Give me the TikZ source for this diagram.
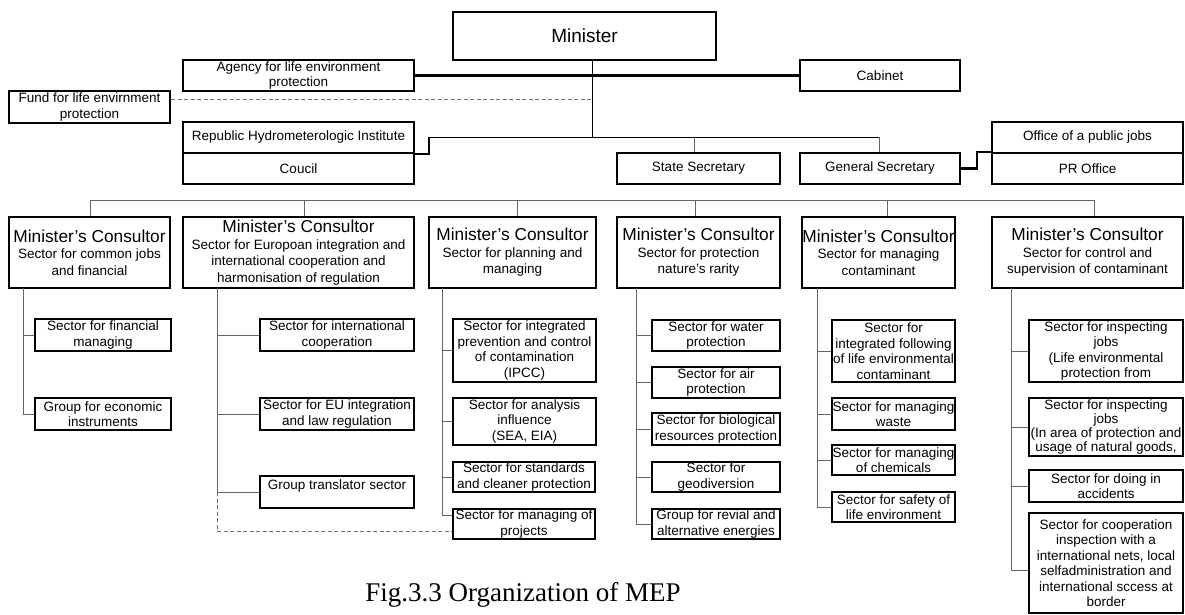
\documentclass[tikz,border=0pt]{standalone}
\usepackage{fontspec}
\setmainfont{Liberation Sans}
\newfontfamily\capfont{Liberation Serif}
\definecolor{conngray}{RGB}{100,100,100}
\definecolor{dashgray}{RGB}{110,110,110}
% box given by its corners: style, name, x1, x2, y1, y2, text
\newcommand\ebox[7]{%
  \node[#1, minimum width={(#4-#3)*1pt}, minimum height={(#6-#5)*1pt}]
    (#2) at ({(#3+#4)/2},{(#5+#6)/2}) {#7};}
\newcommand\mctitle{{\fontsize{17.3}{19}\selectfont Minister’s Consultor}}
\begin{document}
\begin{tikzpicture}[x=1pt,y=-1pt,
  box/.style={draw, line width=2.1pt, inner sep=0pt, align=center,
    font=\fontsize{13.5}{15.5}\selectfont},
  tightbox/.style={box, font=\fontsize{13.5}{14.2}\selectfont},
  consbox/.style={box, font=\fontsize{13.5}{16.5}\selectfont},
  topbox/.style={box, font=\fontsize{19}{21}\selectfont},
  conn/.style={draw=conngray, line width=0.9pt},
  blackconn/.style={draw=black, line width=0.9pt},
  heavyconn/.style={draw=black, line width=2.2pt, line join=miter},
  dashconn/.style={draw=dashgray, line width=0.9pt, dash pattern=on 4pt off 2.5pt}]
\useasboundingbox (0,0) rectangle (1185,615);
\fill[white] (0,0) rectangle (1185,615);

% ---- top level
\ebox{topbox}{min}{453}{716}{12}{60}{Minister}
\ebox{box}{agency}{183}{414}{60}{91}{Agency for life environment\\protection}
\ebox{box}{cabinet}{800}{960}{60}{91}{Cabinet}
\ebox{box}{fund}{9}{170}{91}{123}{Fund for life envirnment\\protection}
\ebox{box}{rep}{183}{414}{122}{153}{Republic Hydrometerologic Institute}
\ebox{box}{coucil}{183}{414}{153}{184}{Coucil}
\ebox{box}{ss}{617}{780}{153}{184}{State Secretary}
\ebox{box}{gs}{800}{960}{153}{184}{General Secretary}
\ebox{box}{office}{992}{1183}{122}{153}{Office of a public jobs}
\ebox{box}{pr}{992}{1183}{153}{184}{PR Office}

\coordinate (spine) at (592,137);
\coordinate (fundjoin) at (592,99);
\coordinate (repjoin) at (429,137);
\coordinate (gsjoin) at (879,137);

\draw[blackconn] (spine |- min.south) -- (spine);
\draw[heavyconn] (agency.east) -- (cabinet.west);
\draw[dashconn] (fundjoin -| fund.east) -- (fundjoin);
\draw[heavyconn] (rep.south east) -| (repjoin);
\draw[blackconn] (repjoin) -- (gsjoin);
\draw[conn] ([xshift=-4.5pt]ss.north |- repjoin) -- ([xshift=-4.5pt]ss.north);
\draw[conn] (gsjoin) -- (gsjoin |- gs.north);
\draw[heavyconn] (gs.east) -- ++(16,0) |- (pr.north west);

% ---- consultors
\ebox{consbox}{c1}{9}{170}{217}{288}{\mctitle\\Sector for common jobs\\and financial}
\ebox{consbox}{c2}{183}{414}{217}{288}{\mctitle\\Sector for Europoan integration and\\international cooperation and\\harmonisation of regulation}
\ebox{consbox}{c3}{429}{596}{217}{288}{\mctitle\\Sector for planning and\\managing}
\ebox{consbox}{c4}{617}{780}{217}{288}{\mctitle\\Sector for protection\\nature’s rarity}
\ebox{consbox}{c5}{802}{955}{217}{288}{\mctitle\\Sector for managing\\contaminant}
\ebox{consbox}{c6}{992}{1183}{217}{288}{\mctitle\\Sector for control and\\supervision of contaminant}

\coordinate (busL) at (90,200);
\coordinate (busR) at (1094,200);
\draw[conn] (busL) -- (busR);
\draw[conn] (busL) -- (busL |- c1.north);
\draw[conn] ([xshift=5.5pt]c2.north |- busL) -- ([xshift=5.5pt]c2.north);
\draw[conn] ([xshift=4.5pt]c3.north |- busL) -- ([xshift=4.5pt]c3.north);
\draw[conn] ([xshift=-3.5pt]c4.north |- busL) -- ([xshift=-3.5pt]c4.north);
\draw[conn] ([xshift=8.5pt]c5.north |- busL) -- ([xshift=8.5pt]c5.north);
\draw[conn] (busR) -- (busR |- c6.north);

% ---- sectors and groups
\ebox{box}{ch1a}{35}{171}{319}{351}{Sector for financial\\managing}
\ebox{box}{ch1b}{35}{171}{398}{430}{Group for economic\\instruments}

\ebox{box}{ch2a}{260}{414}{319}{351}{Sector for international\\cooperation}
\ebox{box}{ch2b}{260}{414}{398}{430}{Sector for EU integration\\and law regulation}
\ebox{box}{ch2c}{260}{414}{476}{508}{Group translator sector\\\mbox{}}

\ebox{box}{ch3a}{453}{596}{319}{382}{Sector for integrated\\prevention and control\\of contamination\\(IPCC)}
\ebox{box}{ch3b}{453}{596}{398}{445}{Sector for analysis\\influence\\(SEA, EIA)}
\ebox{box}{ch3c}{453}{595}{462}{492}{Sector for standards\\and cleaner protection}
\ebox{box}{ch3d}{453}{595}{509}{539}{Sector for managing of\\projects}

\ebox{box}{ch4a}{652}{780}{320}{351}{Sector for water\\protection}
\ebox{box}{ch4b}{652}{780}{367}{398}{Sector for air\\protection}
\ebox{box}{ch4c}{652}{780}{413}{445}{Sector for biological\\resources protection}
\ebox{box}{ch4d}{652}{780}{462}{492}{Sector for\\geodiversion}
\ebox{box}{ch4e}{652}{780}{509}{539}{Group for revial and\\alternative energies}

\ebox{box}{ch5a}{832}{955}{320}{382}{Sector for\\integrated following\\of life environmental\\contaminant}
\ebox{box}{ch5b}{832}{955}{398}{430}{Sector for managing\\waste}
\ebox{box}{ch5c}{832}{955}{445}{475}{Sector for managing\\of chemicals}
\ebox{box}{ch5d}{832}{955}{492}{522}{Sector for safety of\\life environment}

\ebox{box}{ch6a}{1029}{1183}{320}{382}{Sector for inspecting\\jobs\\(Life environmental\\protection from}
\ebox{tightbox}{ch6b}{1029}{1183}{398}{456}{Sector for inspecting\\jobs\\(In area of protection and\\usage of natural goods,}
\ebox{box}{ch6c}{1029}{1183}{470}{502}{Sector for doing in\\accidents}
\ebox{box}{ch6d}{1029}{1183}{513}{613}{Sector for cooperation\\inspection with a\\international nets, local\\selfadministration and\\international sccess at\\border}

% ---- branch lines
\coordinate (v1) at (23,288);
\coordinate (v2) at (217,288);
\coordinate (v3) at (442,288);
\coordinate (v4) at (636,288);
\coordinate (v5) at (817,288);
\coordinate (v6) at (1011,288);
\coordinate (dashjoin) at (217,531);

\draw[conn] (v1) |- (ch1b.west);
\draw[conn] (v1 |- ch1a.west) -- (ch1a.west);

\draw[conn] (v2) |- (ch2c.west);
\draw[conn] (v2 |- ch2a.west) -- (ch2a.west);
\draw[conn] (v2 |- ch2b.west) -- (ch2b.west);
\draw[dashconn] (v2 |- ch2c.west) -- (dashjoin) -- (dashjoin -| ch3d.west);

\draw[conn] (v3) |- ([yshift=9pt]ch3d.west);
\draw[conn] (v3 |- ch3a.west) -- (ch3a.west);
\draw[conn] (v3 |- ch3b.west) -- (ch3b.west);
\draw[conn] (v3 |- ch3c.west) -- (ch3c.west);

\draw[conn] (v4) |- (ch4e.west);
\draw[conn] (v4 |- ch4a.west) -- (ch4a.west);
\draw[conn] (v4 |- ch4b.west) -- (ch4b.west);
\draw[conn] (v4 |- ch4c.west) -- (ch4c.west);
\draw[conn] (v4 |- ch4d.west) -- (ch4d.west);

\draw[conn] (v5) |- (ch5d.west);
\draw[conn] (v5 |- ch5a.west) -- (ch5a.west);
\draw[conn] (v5 |- ch5b.west) -- (ch5b.west);
\draw[conn] (v5 |- ch5c.west) -- (ch5c.west);

\draw[conn] (v6) |- ([yshift=-7pt]ch6d.west);
\draw[conn] (v6 |- ch6a.west) -- (ch6a.west);
\draw[conn] (v6 |- ch6b.west) -- (ch6b.west);
\draw[conn] (v6 |- ch6c.west) -- (ch6c.west);

% ---- caption
\node[font=\capfont\fontsize{27}{30}\selectfont, inner sep=0pt] (caption) at (523,595) {Fig.3.3 Organization of MEP};
\end{tikzpicture}
\end{document}
